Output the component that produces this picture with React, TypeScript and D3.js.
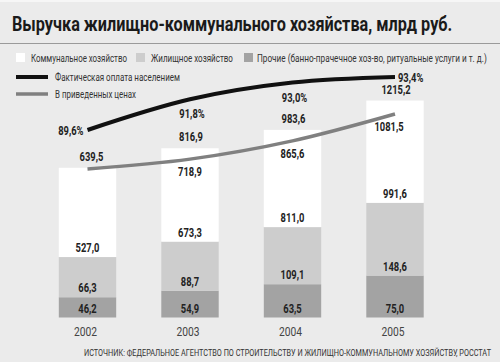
import React, { useLayoutEffect, useRef, useState } from "react";
import * as d3 from "d3";

const years = ["2002", "2003", "2004", "2005"];
const communal = [527.0, 673.3, 811.0, 991.6];
const housing = [66.3, 88.7, 109.1, 148.6];
const other = [46.2, 54.9, 63.5, 75.0];
const totals = [639.5, 816.9, 983.6, 1215.2];
const paidShare = [89.6, 91.8, 93.0, 93.4];
const comparable = [639.5, 718.9, 865.6, 1081.5];

const fmt = (v: number) => v.toFixed(1).replace(".", ",");

const W = 500;
const H = 362;
const FONT = "Roboto, 'Liberation Sans', sans-serif";

type TP = {
  x: number;
  y: number;
  anchor?: "start" | "middle" | "end";
  sx?: number;
  size?: number;
  weight?: number;
  fill?: string;
  children: React.ReactNode;
};

function T({ x, y, anchor = "middle", sx = 0.78, size = 12, weight = 700, fill = "#222", children }: TP) {
  return (
    <text
      transform={`translate(${x},${y}) scale(${sx},1)`}
      textAnchor={anchor}
      style={{ fontFamily: FONT, fontWeight: weight, fontSize: size, fill }}
    >
      {children}
    </text>
  );
}

// text squeezed horizontally to a given width (the reference uses a condensed face)
function Fit({ x, y, width, anchor = "start", size = 11, weight = 400, fill = "#333", children }: TP & { width: number }) {
  const ref = useRef<SVGTextElement>(null);
  const [sx, setSx] = useState(0.8);
  useLayoutEffect(() => {
    if (ref.current) {
      const len = ref.current.getComputedTextLength();
      if (len > 0) setSx(width / len);
    }
  }, [width, children]);
  return (
    <text
      ref={ref}
      transform={`translate(${x},${y}) scale(${sx},1)`}
      textAnchor={anchor}
      style={{ fontFamily: FONT, fontWeight: weight, fontSize: size, fill }}
    >
      {children}
    </text>
  );
}

export default function App() {
  const x = d3.scaleBand<string>().domain(years).range([36.25, 446.25]).paddingInner(0.44).paddingOuter(0.22);
  const baseY = 317.5;
  // the infographic is not drawn to one scale: each layer has its own scale
  const hOther = d3.scaleLinear().domain([40, 80]).range([15.6, 45.7]);
  const hHousing = d3.scaleLinear().domain([60, 150]).range([37.7, 73.3]);
  const hCommunal = d3.scaleLinear().domain([500, 1000]).range([88.5, 102.5]);
  const yPct = d3.scaleLinear().domain([89.6, 93.4]).range([130, 77]);
  const yComp = d3.scaleLinear().domain([639.5, 1081.5]).range([169, 114]);

  const cx = (i: number) => (x(years[i]) as number) + x.bandwidth() / 2;

  const bars = years.map((yr, i) => {
    const oTop = baseY - hOther(other[i]);
    const hTop = oTop - hHousing(housing[i]);
    const cTop = hTop - hCommunal(communal[i]);
    return { yr, i, oTop, hTop, cTop };
  });

  const blackPath = d3
    .line<number>()
    .x((_, i) => cx(i))
    .y((d) => yPct(d))
    .curve(d3.curveMonotoneX)(paidShare) as string;
  const grayPath = d3
    .line<number>()
    .x((_, i) => cx(i))
    .y((d) => yComp(d))
    .curve(d3.curveMonotoneX)(comparable) as string;

  return (
    <div style={{ position: "fixed", left: 0, top: 0 }}>
      <svg width={W} height={H} style={{ display: "block" }}>
        <rect x={0} y={0} width={W} height={H} fill="#ebebeb" />
        <rect x={0} y={0} width={W} height={2} fill="#f6f6f6" />
        <Fit x={12} y={31} width={440} size={19.5} weight={700} fill="#1a1a1a">
          Выручка жилищно-коммунального хозяйства, млрд руб.
        </Fit>
        <line x1={0} x2={W} y1={43.5} y2={43.5} stroke="#9a9a9a" strokeWidth={1} />

        {/* legend */}
        <rect x={16} y={53} width={9} height={9} fill="#ffffff" />
        <Fit x={31} y={62} width={96}>Коммунальное хозяйство</Fit>
        <rect x={136} y={53} width={9} height={9} fill="#cdcdcd" />
        <Fit x={151} y={62} width={82}>Жилищное хозяйство</Fit>
        <rect x={244} y={53} width={9} height={9} fill="#a3a3a3" />
        <Fit x={257} y={62} width={230}>Прочие (банно-прачечное хоз-во, ритуальные услуги и т. д.)</Fit>
        <line x1={16} x2={48} y1={77} y2={77} stroke="#111" strokeWidth={4} />
        <Fit x={55} y={81} width={125}>Фактическая оплата населением</Fit>
        <line x1={16} x2={48} y1={94} y2={94} stroke="#808080" strokeWidth={3.5} />
        <Fit x={55} y={98} width={81}>В приведенных ценах</Fit>

        {/* bars */}
        {bars.map((b) => (
          <g key={b.yr}>
            <rect x={x(b.yr)} y={b.oTop} width={x.bandwidth()} height={baseY - b.oTop} fill="#a3a3a3" />
            <rect x={x(b.yr)} y={b.hTop} width={x.bandwidth()} height={b.oTop - b.hTop} fill="#cdcdcd" />
            <rect x={x(b.yr)} y={b.cTop} width={x.bandwidth()} height={b.hTop - b.cTop} fill="#ffffff" />
            <T x={cx(b.i)} y={baseY - 4.5}>{fmt(other[b.i])}</T>
            <T x={cx(b.i)} y={b.oTop - 5}>{fmt(housing[b.i])}</T>
            <T x={cx(b.i)} y={b.hTop - 5}>{fmt(communal[b.i])}</T>
            <T x={cx(b.i) + (b.i === 0 ? 4 : 1)} y={b.cTop - 7}>{fmt(totals[b.i])}</T>
            <T x={cx(b.i) - 2} y={H - 26} sx={0.82} size={12.5} weight={400} fill="#444">{b.yr}</T>
          </g>
        ))}

        {/* lines */}
        <path d={grayPath} fill="none" stroke="#808080" strokeWidth={3.5} />
        <path d={blackPath} fill="none" stroke="#111" strokeWidth={4} />

        {comparable.map((v, i) =>
          i === 0 ? null : (
            <T key={"c" + i} x={cx(i) - (i === 3 ? 6 : 0)} y={yComp(v) + 17}>{fmt(v)}</T>
          )
        )}
        {paidShare.map((v, i) => {
          const t = fmt(v) + "%";
          if (i === 0) return <T key={"p" + i} x={cx(i) - 4} y={yPct(v) + 5} anchor="end">{t}</T>;
          if (i === 3) return <T key={"p" + i} x={cx(i) + 3} y={yPct(v) + 5} anchor="start">{t}</T>;
          return <T key={"p" + i} x={cx(i) + 2} y={yPct(v) + 19}>{t}</T>;
        })}

        <Fit x={491} y={356} width={406} anchor="end" size={9}>
          ИСТОЧНИК: ФЕДЕРАЛЬНОЕ АГЕНТСТВО ПО СТРОИТЕЛЬСТВУ И ЖИЛИЩНО-КОММУНАЛЬНОМУ ХОЗЯЙСТВУ, РОССТАТ
        </Fit>
      </svg>
    </div>
  );
}
